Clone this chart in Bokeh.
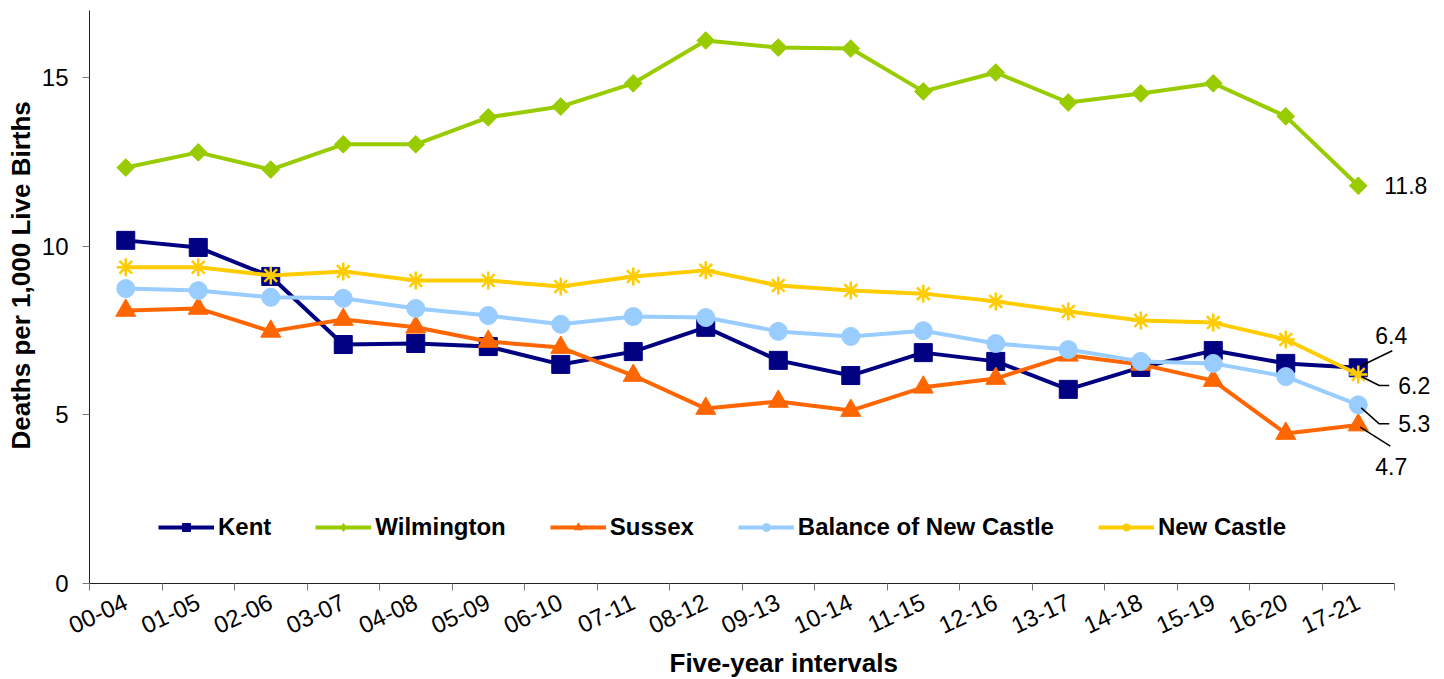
import math
from bokeh.plotting import figure
from bokeh.models import Range1d, FixedTicker, Legend, LegendItem, Label, Title
from bokeh.embed import file_html
from bokeh.resources import INLINE

periods = ["00-04", "01-05", "02-06", "03-07", "04-08", "05-09", "06-10", "07-11", "08-12",
           "09-13", "10-14", "11-15", "12-16", "13-17", "14-18", "15-19", "16-20", "17-21"]

kent = [10.18, 9.97, 9.11, 7.09, 7.12, 7.03, 6.50, 6.88, 7.60, 6.62, 6.17, 6.85, 6.59, 5.76, 6.41, 6.91, 6.53, 6.4]
wilmington = [12.34, 12.79, 12.28, 13.03, 13.03, 13.83, 14.15, 14.84, 16.11, 15.90, 15.87, 14.60, 15.16, 14.27, 14.54, 14.84, 13.86, 11.8]
sussex = [8.10, 8.16, 7.48, 7.83, 7.60, 7.18, 7.00, 6.17, 5.19, 5.40, 5.13, 5.82, 6.08, 6.77, 6.50, 6.02, 4.45, 4.7]
balance_nc = [8.75, 8.69, 8.49, 8.46, 8.16, 7.95, 7.69, 7.92, 7.89, 7.48, 7.33, 7.50, 7.12, 6.94, 6.59, 6.53, 6.14, 5.3]
new_castle = [9.38, 9.38, 9.14, 9.26, 8.99, 8.99, 8.81, 9.11, 9.29, 8.84, 8.69, 8.60, 8.37, 8.07, 7.80, 7.74, 7.24, 6.2]

series_names = ["Kent", "Wilmington", "Sussex", "Balance of New Castle", "New Castle"]
series_values = [kent, wilmington, sussex, balance_nc, new_castle]
colors = ["#000080", "#99CC00", "#FF6600", "#99CCFF", "#FFCC00"]

FONT = "Liberation Sans"

N = len(periods)
XPX = 1306 / N          # pixels per category
FRAME_W = 1348
p = figure(width=1440, height=678, output_backend="svg", toolbar_location=None,
           x_range=Range1d(0, FRAME_W / XPX), y_range=Range1d(0, 17),
           min_border_left=88, min_border_right=4, min_border_top=10, min_border_bottom=95)
p.outline_line_color = None
p.xgrid.grid_line_color = None
p.ygrid.grid_line_color = None
p.background_fill_color = "white"

xs = [i + 0.5 for i in range(N)]

# x axis
p.xaxis.bounds = (0, N)
p.xaxis.ticker = FixedTicker(ticks=xs, minor_ticks=list(range(N + 1)))
p.xaxis.major_label_overrides = {x: lab for x, lab in zip(xs, periods)}
p.xaxis.major_tick_line_color = None
p.xaxis.minor_tick_out = 7
p.xaxis.minor_tick_in = 0
p.xaxis.minor_tick_line_color = "#777777"
p.xaxis.axis_line_color = "#222222"
p.xaxis.major_label_orientation = 0.436
p.xaxis.major_label_text_font = FONT
p.xaxis.major_label_text_font_size = "24px"
p.xaxis.major_label_text_color = "black"
p.xaxis.major_label_standoff = 10

# y axis
p.yaxis.ticker = FixedTicker(ticks=[0, 5, 10, 15])
p.yaxis.major_tick_out = 7
p.yaxis.major_tick_in = 0
p.yaxis.minor_tick_line_color = None
p.yaxis.major_tick_line_color = "#777777"
p.yaxis.axis_line_color = "#222222"
p.yaxis.major_label_text_font = FONT
p.yaxis.major_label_text_font_size = "24px"
p.yaxis.major_label_text_color = "black"
p.yaxis.major_label_standoff = 14

markers = ["square", "diamond", "triangle", "circle", "asterisk"]
sizes = [18, 16, 20, 18, 18]

items = []
for name, vals, col, mk, sz in zip(series_names, series_values, colors, markers, sizes):
    lr = p.line(xs, vals, line_color=col, line_width=4)
    if mk == "asterisk":
        sr = p.scatter(xs, vals, marker="asterisk", size=sz, line_color=col, line_width=2.5)
        legend_r = sr
    elif mk == "diamond":
        # diamond used for the legend swatch, covered by a wider rotated square in the plot
        legend_r = p.scatter(xs, vals, marker="diamond", size=sz, fill_color=col, line_color=col)
        p.scatter(xs, vals, marker="square", size=12.5, angle=math.pi / 4,
                  fill_color=col, line_color=col)
    else:
        sr = p.scatter(xs, vals, marker=mk, size=sz, fill_color=col, line_color=col)
        legend_r = sr
    items.append(LegendItem(label=name, renderers=[lr, legend_r]))

legend = Legend(items=items, orientation="horizontal", location=(69, 42),
                label_text_font=FONT, label_text_font_size="24px", label_text_font_style="bold",
                label_text_color="black",
                glyph_width=56, glyph_height=20, label_standoff=4, spacing=44,
                padding=0, margin=0, border_line_color=None, background_fill_alpha=0)
p.add_layout(legend, "center")

# end-of-line value labels with leader lines (pixel offsets from the last point)
YPX = 573 / 17.0
last_x = xs[-1]
end_specs = [
    # (series index, text dx, text dy (screen, down positive), leader path in px)
    (1, 26, 0, None),
    (0, 17, -32, [(3, -2), (34, -17)]),
    (4, 40, 11, [(3, 2), (21, 11), (31, 11)]),
    (3, 40, 19, [(3, 3), (21, 19), (31, 19)]),
    (2, 17, 41, [(2, 2), (32, 21)]),
]
lxs, lys = [], []
for idx, dx, dy, path in end_specs:
    v = series_values[idx][-1]
    p.add_layout(Label(x=last_x, y=v, x_offset=dx, y_offset=-dy, text=f"{v:.1f}",
                       text_font=FONT, text_font_size="23px", text_color="black",
                       text_baseline="middle", text_align="left"))
    if path:
        lxs.append([last_x + a / XPX for a, b in path])
        lys.append([v - b / YPX for a, b in path])
p.multi_line(lxs, lys, line_color="black", line_width=1.5)

# axis titles
p.add_layout(Title(text="Five-year intervals", text_font=FONT, text_font_size="26px",
                   text_font_style="bold", text_color="black", align="left", offset=580,
                   standoff=2), "below")
p.add_layout(Title(text="Deaths per 1,000 Live Births", text_font=FONT, text_font_size="26px",
                   text_font_style="bold", text_color="black", align="left", offset=134,
                   standoff=6), "left")

open("out.html", "w").write(file_html(p, INLINE))
